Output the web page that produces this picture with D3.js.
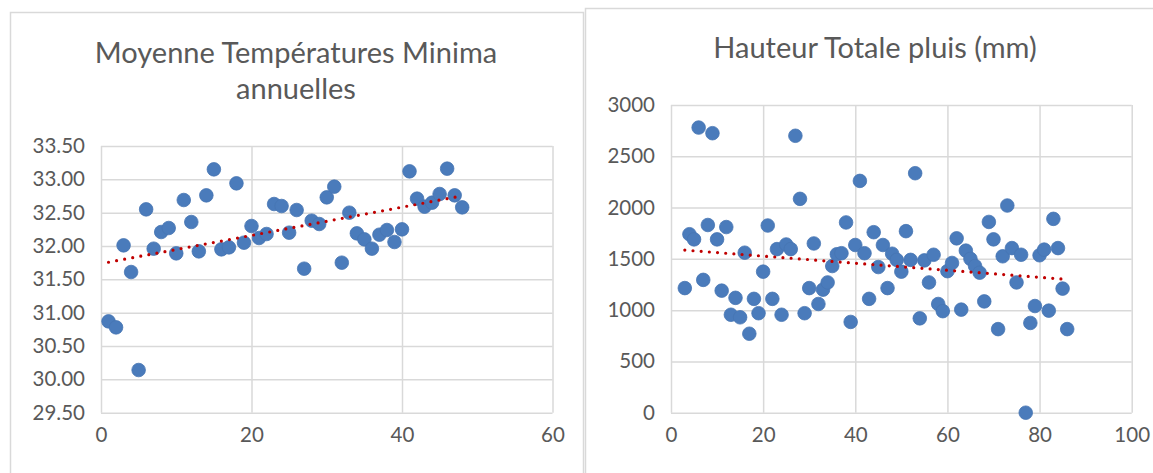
<!DOCTYPE html>
<html><head><meta charset="utf-8">
<script src="https://cdn.jsdelivr.net/npm/d3@7/dist/d3.min.js"></script>
<style>body{margin:0;background:#fff;} svg{display:block;}</style>
</head><body><svg id="c" width="1153" height="473"></svg>
<script>
// ---------- Data ----------
const tempTitle = ["Moyenne Températures Minima", "annuelles"];
const tempX = [1,2,3,4,5,6,7,8,9,10,11,12,13,14,15,16,17,18,19,20,21,22,23,24,25,26,27,28,29,30,31,32,33,34,35,36,37,38,39,40,41,42,43,44,45,46,47,48];
const tempY = [30.87,30.78,32.01,31.61,30.14,32.55,31.96,32.21,32.27,31.89,32.69,32.36,31.92,32.76,33.15,31.95,31.98,32.94,32.05,32.30,32.12,32.18,32.63,32.60,32.20,32.54,31.66,32.38,32.33,32.73,32.89,31.75,32.50,32.19,32.10,31.96,32.17,32.24,32.06,32.25,33.12,32.71,32.59,32.65,32.78,33.16,32.76,32.58];
const tempXTicks = [0,20,40,60];
const tempYTicks = [29.5,30.0,30.5,31.0,31.5,32.0,32.5,33.0,33.5];

const rainTitle = ["Hauteur Totale pluis (mm)"];
const rainX = [3,4,5,6,7,8,9,10,11,12,13,14,15,16,17,18,19,20,21,22,23,24,25,26,27,28,29,30,31,32,33,34,35,36,37,38,39,40,41,42,43,44,45,46,47,48,49,50,51,52,53,54,55,56,57,58,59,60,61,62,63,64,65,66,67,68,69,70,71,72,73,74,75,76,77,78,79,80,81,82,83,84,85,86];
const rainY = [1215,1740,1690,2780,1295,1830,2725,1690,1190,1810,955,1120,930,1560,770,1110,970,1375,1825,1110,1595,955,1640,1595,2700,2085,970,1215,1650,1060,1200,1270,1430,1545,1555,1855,885,1635,2260,1555,1110,1760,1420,1635,1215,1550,1490,1375,1770,1490,2335,920,1485,1270,1540,1060,990,1380,1460,1700,1005,1580,1500,1430,1365,1085,1860,1690,815,1525,2020,1605,1270,1540,0,875,1040,1535,1590,995,1890,1605,1210,815];
const rainXTicks = [0,20,40,60,80,100];
const rainYTicks = [0,500,1000,1500,2000,2500,3000];

// ---------- Drawing ----------
const svg = d3.select("#c");
const FONT = "Lato, 'Open Sans', sans-serif";
const TXT = "#595959";
const GRID = "#d9d9d9";
const DOT = "#4a7bbb";
const TREND = "#c00000";

function panel(cfg){
  // outer chart border
  svg.append("rect").attr("x",cfg.box[0]+0.5).attr("y",cfg.box[1]+0.5)
    .attr("width",cfg.box[2]).attr("height",cfg.box[3])
    .attr("fill","#fff").attr("stroke","#d9d9d9").attr("stroke-width",1.5);

  // title
  cfg.title.forEach((t,i)=>{
    svg.append("text").attr("x",cfg.titleX).attr("y",cfg.titleY + i*cfg.titleLH)
      .attr("text-anchor","middle").attr("font-family",FONT).attr("font-size",cfg.titleSize)
      .attr("fill",TXT).text(t);
  });

  const x = d3.scaleLinear().domain(cfg.xDomain).range([cfg.plot[0],cfg.plot[1]]);
  const y = d3.scaleLinear().domain(cfg.yDomain).range([cfg.plot[3],cfg.plot[2]]);

  // grid (horizontal)
  const gy = svg.append("g").attr("transform",`translate(${cfg.plot[0]},0)`)
    .call(d3.axisLeft(y).tickValues(cfg.yTicks).tickSize(-(cfg.plot[1]-cfg.plot[0])).tickPadding(16).tickFormat(cfg.yFmt));
  gy.select(".domain").remove();
  gy.selectAll(".tick line").attr("stroke",GRID).attr("stroke-width",1.5);
  gy.selectAll(".tick text").attr("font-family",FONT).attr("font-size",cfg.tickSize).attr("fill",TXT);

  // grid (vertical)
  const gx = svg.append("g").attr("transform",`translate(0,${cfg.plot[3]})`)
    .call(d3.axisBottom(x).tickValues(cfg.xTicks).tickSize(-(cfg.plot[3]-cfg.plot[2])).tickPadding(cfg.xPad).tickFormat(d3.format("d")));
  gx.select(".domain").remove();
  gx.selectAll(".tick line").attr("stroke",GRID).attr("stroke-width",1.5);
  gx.selectAll(".tick text").attr("font-family",FONT).attr("font-size",cfg.tickSize).attr("fill",TXT);

  // points
  const pts = cfg.xs.map((d,i)=>[d,cfg.ys[i]]);
  svg.append("g").selectAll("circle").data(pts).join("circle")
    .attr("cx",d=>x(d[0])).attr("cy",d=>y(d[1])).attr("r",6.8)
    .attr("fill",DOT).attr("stroke","#4675b3").attr("stroke-width",0.8);

  // linear trendline (least squares)
  const mx = d3.mean(cfg.xs), my = d3.mean(cfg.ys);
  let sxy=0,sxx=0;
  cfg.xs.forEach((xv,i)=>{sxy+=(xv-mx)*(cfg.ys[i]-my); sxx+=(xv-mx)*(xv-mx);});
  const b = sxy/sxx, a = my - b*mx;
  const x0 = d3.min(cfg.xs), x1 = d3.max(cfg.xs);
  svg.append("line").attr("x1",x(x0)).attr("y1",y(a+b*x0)).attr("x2",x(x1)).attr("y2",y(a+b*x1))
    .attr("stroke",TREND).attr("stroke-width",3.2).attr("stroke-linecap","round")
    .attr("stroke-dasharray","0 8.2");
}

panel({
  box:[10,12,573,480],
  title:tempTitle, titleX:296, titleY:63, titleLH:36, titleSize:29,
  plot:[101,552.5,146,412.7],
  xDomain:[0,60], yDomain:[29.5,33.5],
  xTicks:tempXTicks, yTicks:tempYTicks, yFmt:d3.format(".2f"),
  xs:tempX, ys:tempY, tickSize:20.5, xPad:15
});

panel({
  box:[585,8,600,480],
  title:rainTitle, titleX:875, titleY:58, titleLH:36, titleSize:29,
  plot:[671,1131.7,105,412.7],
  xDomain:[0,100], yDomain:[0,3000],
  xTicks:rainXTicks, yTicks:rainYTicks, yFmt:d3.format("d"),
  xs:rainX, ys:rainY, tickSize:20.5, xPad:15
});
</script>
</body></html>
